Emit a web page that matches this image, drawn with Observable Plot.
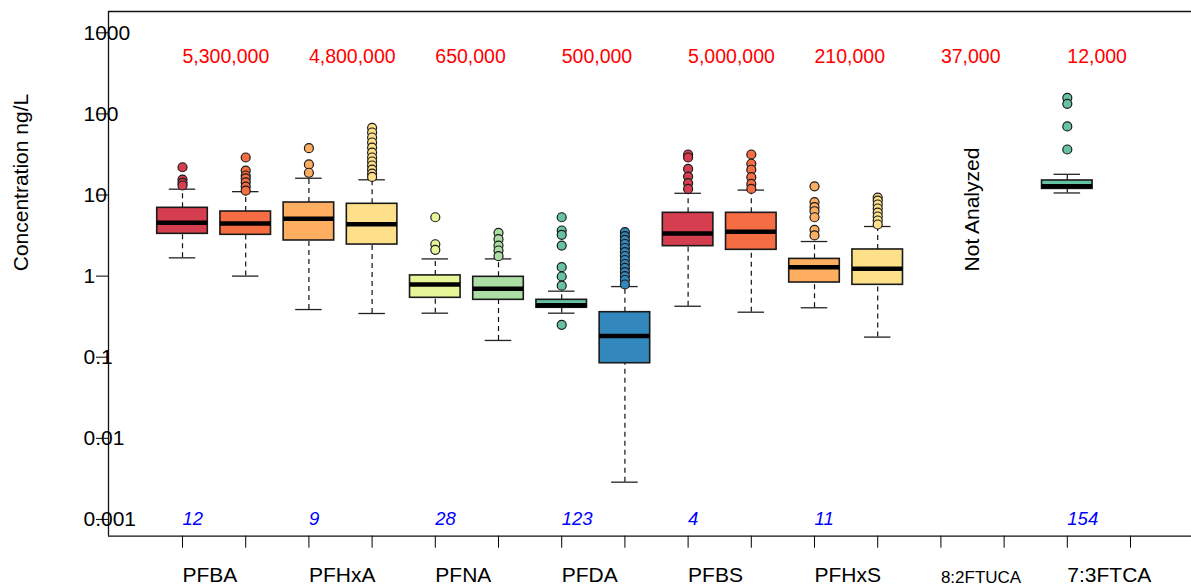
<!DOCTYPE html>
<html>
<head>
<meta charset="utf-8">
<script src="https://cdn.jsdelivr.net/npm/d3@7"></script>
<script src="https://cdn.jsdelivr.net/npm/@observablehq/plot@0.6"></script>
<style>
  html, body { margin: 0; padding: 0; background: #fff; overflow: hidden; }
  #chart svg { display: block; }
</style>
</head>
<body>
<div id="chart"></div>
<script>
// Compounds, one per pair of box positions (first position = 2i + 1)
const compounds = ["PFBA", "PFHxA", "PFNA", "PFDA", "PFBS", "PFHxS", "8:2FTUCA", "7:3FTCA"];
const annualUse = ["5,300,000", "4,800,000", "650,000", "500,000", "5,000,000", "210,000", "37,000", "12,000"];
const detections = ["12", "9", "28", "123", "4", "11", "", "154"];
const notAnalyzed = "8:2FTUCA";

// Box statistics (ng/L) at each box position
const boxPositions = [1, 2, 3, 4, 5, 6, 7, 8, 9, 10, 11, 12, 15];
const whiskerLow  = [1.68, 1.0, 0.387, 0.346, 0.349, 0.161, 0.349, 0.00288, 0.425, 0.359, 0.407, 0.177, 10.6];
const quartile1   = [3.32, 3.23, 2.75, 2.45, 0.540, 0.510, 0.407, 0.0843, 2.34, 2.11, 0.834, 0.781, 11.9];
const medians     = [4.54, 4.45, 5.09, 4.36, 0.788, 0.697, 0.438, 0.182, 3.35, 3.52, 1.29, 1.23, 12.8];
const quartile3   = [6.95, 6.26, 8.08, 7.79, 1.02, 0.980, 0.510, 0.359, 6.03, 6.03, 1.63, 2.13, 15.1];
const whiskerHigh = [11.8, 11.0, 16.1, 15.4, 1.63, 1.63, 0.652, 0.743, 10.5, 11.5, 2.67, 4.09, 18.0];
const outliers = [
  [22.0, 15.5, 14.1, 13.1],
  [29.0, 20.0, 17.4, 16.0, 14.3, 12.7, 11.3],
  [37.8, 23.8, 18.8],
  [67.4, 59.0, 51.2, 44.4, 38.4, 33.4, 29.0, 25.9, 23.1, 20.6, 18.4, 16.7],
  [5.32, 2.47, 2.11],
  [3.42, 2.85, 2.38, 2.07, 1.76],
  [5.32, 3.65, 3.23, 2.38, 1.29, 0.989, 0.762, 0.251],
  [3.48, 3.12, 2.79, 2.49, 2.22, 1.98, 1.77, 1.58, 1.41, 1.26, 1.12, 1.00, 0.895, 0.788],
  [31.6, 29.0, 21.0, 16.9, 14.0, 11.9],
  [31.6, 24.3, 20.5, 16.6, 13.7, 11.9],
  [12.8, 8.15, 7.07, 6.31, 5.32, 3.72, 3.17],
  [9.31, 8.55, 7.64, 6.82, 6.08, 5.43, 4.85, 4.33],
  [158, 133, 70, 36.4]
];

// Axes
const xTicks = [1, 2, 3, 4, 5, 6, 7, 8, 9, 10, 11, 12, 13, 14, 15, 16];
const yTicks = [1000, 100, 10, 1, 0.1, 0.01, 0.001];
const yTickLabels = ["1000", "100", "10", "1", "0.1", "0.01", "0.001"];

// ---- layout / style ----
const xDomain = [-0.171, 16.965];
const yDomain = [0.000621, 1831];
const boxHalf = 0.4;
const capHalf = 0.21;
const font = "'Liberation Sans', Arial, Helvetica, sans-serif";
const palette = d3.schemeSpectral[8]; // colours recycle every 8 positions

const boxes = boxPositions.map((pos, i) => ({
  pos,
  lo: whiskerLow[i], q1: quartile1[i], med: medians[i], q3: quartile3[i], hi: whiskerHigh[i],
  col: (pos - 1) % 8
}));
const outlierRows = boxes.flatMap((b, i) => outliers[i].map(v => ({pos: b.pos, value: v, col: b.col})));

const groups = compounds.map((name, i) => ({
  name, pos: 2 * i + 1, use: annualUse[i], n: detections[i]
}));
const bigLabels = groups.filter(g => g.name !== notAnalyzed);
const smallLabels = groups.filter(g => g.name === notAnalyzed);

const txt = {lineAnchor: "middle", fill: "black"};

const chart = Plot.plot({
  width: 1191,
  height: 587,
  marginTop: 11,
  marginBottom: 51.3,
  marginLeft: 108,
  marginRight: 0,
  style: {fontFamily: font, background: "white", color: "black"},
  x: {type: "linear", domain: xDomain, ticks: xTicks, tickSize: 12, tickFormat: () => "", label: null},
  y: {type: "log", domain: yDomain, ticks: yTicks, tickSize: 12, tickFormat: () => "", label: null},
  color: {type: "ordinal", domain: d3.range(8), range: palette},
  marks: [
    // plot frame (top, bottom, left)
    Plot.ruleY([yDomain[1]], {stroke: "#111", strokeWidth: 1.3}),
    Plot.ruleY([yDomain[0]], {stroke: "#111", strokeWidth: 1.3}),
    Plot.ruleX([xDomain[0]], {stroke: "#111", strokeWidth: 1.3}),

    // dashed whiskers
    Plot.ruleX(boxes, {x: "pos", y1: "q3", y2: "hi", stroke: "#111", strokeWidth: 1.2, strokeDasharray: "5,4"}),
    Plot.ruleX(boxes, {x: "pos", y1: "lo", y2: "q1", stroke: "#111", strokeWidth: 1.2, strokeDasharray: "5,4"}),
    // whisker caps
    Plot.ruleY(boxes, {y: "hi", x1: d => d.pos - capHalf, x2: d => d.pos + capHalf, stroke: "#222", strokeWidth: 1.3}),
    Plot.ruleY(boxes, {y: "lo", x1: d => d.pos - capHalf, x2: d => d.pos + capHalf, stroke: "#222", strokeWidth: 1.3}),
    // boxes
    Plot.rect(boxes, {x1: d => d.pos - boxHalf, x2: d => d.pos + boxHalf, y1: "q1", y2: "q3",
      fill: "col", stroke: "#1a1a1a", strokeWidth: 1.6}),
    // medians
    Plot.ruleY(boxes, {y: "med", x1: d => d.pos - boxHalf, x2: d => d.pos + boxHalf, stroke: "black", strokeWidth: 4.5}),
    // outliers
    Plot.dot(outlierRows, {x: "pos", y: "value", r: 4.5, fill: "col", stroke: "#1a1a1a", strokeWidth: 1.2}),

    // y tick labels
    Plot.text(yTicks, {...txt, y: d => d, text: (d, i) => yTickLabels[i], frameAnchor: "left", dx: -25,
      textAnchor: "start", fontSize: 21}),
    // y title
    Plot.text(["Concentration ng/L"], {...txt, frameAnchor: "left", dx: -87, dy: -91.3, rotate: -90,
      textAnchor: "middle", fontSize: 21}),

    // annual use (red) above each pair
    Plot.text(groups, {...txt, x: "pos", text: "use", frameAnchor: "top", dy: 45.7, textAnchor: "start",
      fontSize: 19.5, fill: "#ff0000"}),
    // detection counts (blue italic) along the bottom
    Plot.text(groups.filter(g => g.n !== ""), {...txt, x: "pos", text: "n", frameAnchor: "bottom", dy: -16.8,
      textAnchor: "start", fontSize: 18.5, fontStyle: "italic", fill: "#0000ff"}),
    // compound names below the axis
    Plot.text(bigLabels, {...txt, x: "pos", text: "name", frameAnchor: "bottom", dy: 39.4, textAnchor: "start",
      fontSize: 21}),
    Plot.text(smallLabels, {...txt, x: "pos", text: "name", frameAnchor: "bottom", dy: 40.9, textAnchor: "start",
      fontSize: 17}),
    // compound with no measurements
    Plot.text(smallLabels, {...txt, x: d => d.pos + 0.5, text: () => "Not Analyzed", frameAnchor: "top", dy: 198,
      rotate: -90, textAnchor: "middle", fontSize: 21})
  ]
});

document.getElementById("chart").appendChild(chart);
</script>
</body>
</html>
